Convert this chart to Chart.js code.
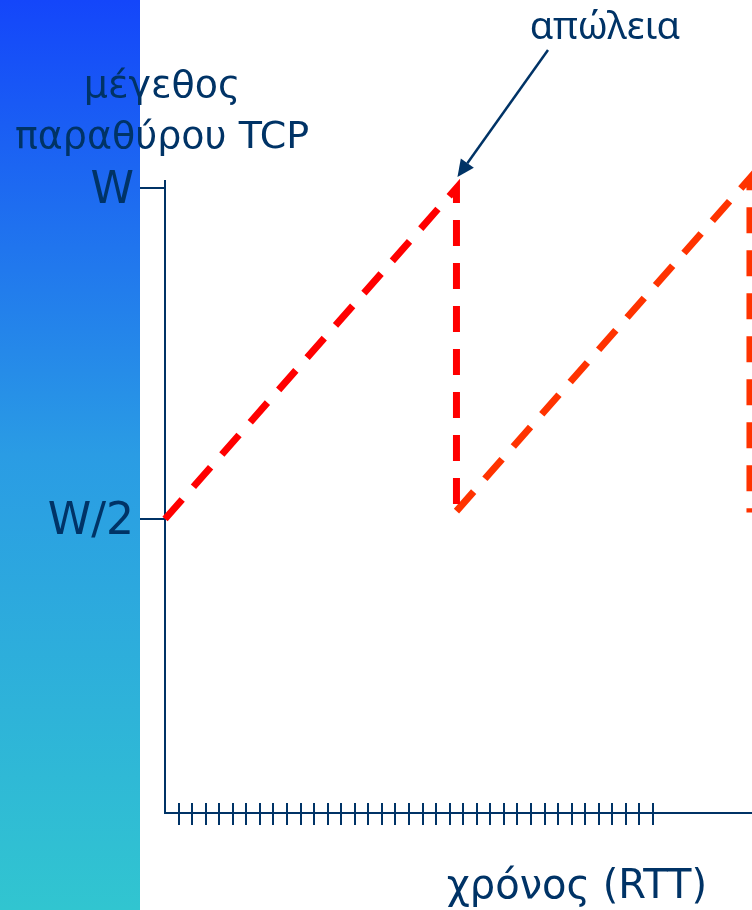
<!DOCTYPE html>
<html>
<head>
<meta charset="utf-8">
<script src="https://cdn.jsdelivr.net/npm/chart.js@4"></script>
<style>
  html, body { margin: 0; padding: 0; background: #ffffff; }
  #wrap { width: 752px; height: 910px; position: relative; }
</style>
</head>
<body>
<div id="wrap"><canvas id="c" width="752" height="910"></canvas></div>
<script>
// ---- data ----
const yTickValues = [0.5, 1];
const yTickLabels = ['W/2', 'W'];
const xTickValues = [1,2,3,4,5,6,7,8,9,10,11,12,13,14,15,16,17,18,19,20,21,22,23,24,25,26,27,28,29,30,31,32,33,34,35,36];
const firstCycleX = [0, 21.5, 21.5];
const firstCycleY = [0.5, 1.0, 0.512];
const secondCycleX = [21.5, 43.15, 43.15];
const secondCycleY = [0.512, 1.015, 0.51];
const lossX = 21.5;
const lossY = 1.0;
const yTitleLines = ['μέγεθος', 'παραθύρου TCP'];
const xTitle = 'χρόνος (RTT)';
const lossLabel = 'απώλεια';

const NAVY = '#003366';
const toPts = (xs, ys) => xs.map((x, i) => ({ x: x, y: ys[i] }));

const decor = {
  id: 'decor',
  beforeDraw(chart) {
    const ctx = chart.ctx;
    const g = ctx.createLinearGradient(0, 0, 0, 910);
    g.addColorStop(0, '#1446FA');
    g.addColorStop(0.5, '#2A9CE4');
    g.addColorStop(1, '#31C5D0');
    ctx.save();
    ctx.fillStyle = g;
    ctx.fillRect(0, 0, 140, 910);
    ctx.restore();
  },
  afterDraw(chart) {
    const ctx = chart.ctx;
    const xs = chart.scales.x, ys = chart.scales.y;
    const bottom = chart.chartArea.bottom;
    ctx.save();
    // upper half of x tick marks (crossing the axis)
    ctx.strokeStyle = NAVY;
    ctx.lineWidth = 2;
    xs.ticks.forEach(t => {
      const px = Math.round(xs.getPixelForValue(t.value));
      ctx.beginPath();
      ctx.moveTo(px, bottom - 10);
      ctx.lineTo(px, bottom);
      ctx.stroke();
    });
    // titles
    ctx.fillStyle = NAVY;
    ctx.textAlign = 'center';
    ctx.textBaseline = 'alphabetic';
    ctx.font = '38px "DejaVu Sans"';
    ctx.fillText(yTitleLines[0], 162, 97);
    ctx.fillText(yTitleLines[1], 162, 148);
    ctx.font = '40px "DejaVu Sans"';
    ctx.textAlign = 'right';
    ctx.fillText(xTitle, 707, 898);
    ctx.font = '38px "Noto Sans"';
    ctx.textAlign = 'center';
    ctx.fillText(lossLabel, 605, 39);
    // arrow to loss point
    const tipX = xs.getPixelForValue(lossX) + 1;
    const tipY = ys.getPixelForValue(lossY) - 11;
    const sx = 548, sy = 50;
    const ang = Math.atan2(tipY - sy, tipX - sx);
    const hl = 17, hw = 8;
    const bx = tipX - hl * Math.cos(ang), by = tipY - hl * Math.sin(ang);
    ctx.strokeStyle = NAVY;
    ctx.lineWidth = 2.5;
    ctx.beginPath();
    ctx.moveTo(sx, sy);
    ctx.lineTo(bx, by);
    ctx.stroke();
    ctx.beginPath();
    ctx.moveTo(tipX, tipY);
    ctx.lineTo(bx + hw * Math.sin(ang), by - hw * Math.cos(ang));
    ctx.lineTo(bx - hw * Math.sin(ang), by + hw * Math.cos(ang));
    ctx.closePath();
    ctx.fillStyle = NAVY;
    ctx.fill();
    ctx.restore();
  }
};

new Chart(document.getElementById('c'), {
  type: 'scatter',
  data: {
    datasets: [
      {
        data: toPts(firstCycleX, firstCycleY),
        showLine: true,
        borderColor: '#FF0000',
        borderWidth: 7,
        borderDash: [26, 17],
        pointRadius: 0,
        tension: 0,
        clip: false
      },
      {
        data: toPts(secondCycleX, secondCycleY),
        showLine: true,
        borderColor: '#FF3300',
        borderWidth: 7,
        borderDash: [26, 17],
        pointRadius: 0,
        tension: 0,
        clip: false
      }
    ]
  },
  options: {
    responsive: false,
    animation: false,
    layout: { padding: { top: 181, right: 0, left: 0, bottom: 0 } },
    plugins: { legend: { display: false }, tooltip: { enabled: false }, title: { display: false } },
    scales: {
      x: {
        type: 'linear',
        min: 0,
        max: 43.3,
        afterBuildTicks: s => { s.ticks = xTickValues.map(v => ({ value: v })); },
        afterFit: s => { s.height = 97; },
        ticks: { display: false },
        grid: { drawOnChartArea: false, drawTicks: true, tickLength: 12, color: NAVY, lineWidth: 2 },
        border: { display: true, color: NAVY, width: 2 }
      },
      y: {
        type: 'linear',
        min: 0.0559,
        max: 1.0106,
        afterBuildTicks: s => { s.ticks = yTickValues.map(v => ({ value: v })); },
        afterFit: s => { s.width = 165; },
        ticks: {
          padding: 6,
          labelOffset: 4,
          color: NAVY,
          font: { family: 'DejaVu Sans', size: 44 },
          callback: (v) => yTickLabels[yTickValues.indexOf(v)]
        },
        grid: { drawOnChartArea: false, drawTicks: true, tickLength: 25, color: NAVY, lineWidth: 2 },
        border: { display: true, color: NAVY, width: 2 }
      }
    }
  },
  plugins: [decor]
});
</script>
</body>
</html>
